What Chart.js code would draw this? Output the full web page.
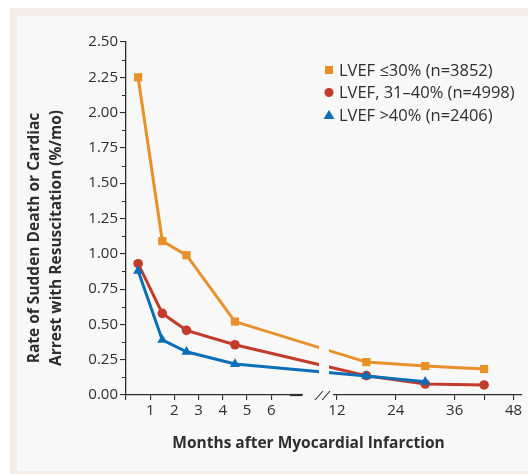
<!DOCTYPE html>
<html>
<head>
<meta charset="utf-8">
<script src="https://cdn.jsdelivr.net/npm/chart.js@4"></script>
<style>
    body { margin: 0; background: #fff; }
    #frame { position: absolute; left: 10px; top: 8px; width: 518px; height: 466px; background: #f2ede6; }
    #panel { position: absolute; left: 17px; top: 16px; width: 511px; height: 455px; background: #f8f8f8; }
    #wrap { position: absolute; left: 0; top: 0; width: 528px; height: 474px; }
</style>
</head>
<body>
<div id="frame"></div>
<div id="panel"></div>
<div id="wrap"><canvas id="rateChart"></canvas></div>
<script>
// DATA
const months = [0.5, 1.5, 2.5, 4.5, 18, 30, 42];
const lvefLow = [2.25, 1.09, 0.99, 0.52, 0.233, 0.205, 0.184];
const lvefMid = [0.93, 0.578, 0.458, 0.356, 0.137, 0.078, 0.071];
const lvefHigh = [0.88, 0.39, 0.306, 0.219, 0.134, 0.094, null];
const seriesLabels = ["LVEF \u226430% (n=3852)", "LVEF, 31\u201340% (n=4998)", "LVEF >40% (n=2406)"];
const xTickMonths = [0, 1, 2, 3, 4, 5, 6, 12, 24, 36, 42, 48];
const xTickLabels = ["", "1", "2", "3", "4", "5", "6", "12", "24", "36", "", "48"];
const yTicks = [0, 0.25, 0.5, 0.75, 1, 1.25, 1.5, 1.75, 2, 2.25, 2.5];

const ORANGE = "#e8902a";
const RED = "#c23b2b";
const BLUE = "#0b6fb8";
const INK = "#2e2e2e";
const PANEL = "#f8f8f8";

// broken axis: 0-6 months wide, 12-48 months compressed
function toAxis(m) {
    if (m <= 6) return m;
    return 8.713 + (m - 12) * 0.2027;
}

function points(values) {
    return months.map((m, i) => ({ x: toAxis(m), y: values[i] })).filter(p => p.y !== null);
}

const tickFont = { family: "Open Sans", size: 15 };

// break gap, minor ticks, titles and legend
const extras = {
    id: "extras",
    afterDatasetsDraw(chart) {
        const ctx = chart.ctx;
        const area = chart.chartArea;
        ctx.save();
        ctx.fillStyle = PANEL;
        ctx.fillRect(319, area.top, 10, area.bottom - area.top - 2);
        ctx.restore();
    },
    afterDraw(chart) {
        const ctx = chart.ctx;
        const area = chart.chartArea;
        const y = chart.scales.y;
        ctx.save();

        // gap in x axis line + slashes
        ctx.fillStyle = PANEL;
        ctx.fillRect(303, area.bottom - 2, 30, 4);
        ctx.strokeStyle = INK;
        ctx.lineWidth = 2.2;
        ctx.beginPath();
        ctx.moveTo(290, area.bottom);
        ctx.lineTo(302, area.bottom);
        ctx.stroke();
        ctx.lineWidth = 1.1;
        ctx.beginPath();
        ctx.moveTo(315, area.bottom + 5);
        ctx.lineTo(323, area.bottom - 4);
        ctx.moveTo(322, area.bottom + 5);
        ctx.lineTo(330, area.bottom - 4);
        ctx.stroke();

        // minor y ticks
        ctx.lineWidth = 1.1;
        ctx.beginPath();
        for (let i = 0; i < yTicks.length - 1; i++) {
            const py = Math.round(y.getPixelForValue(yTicks[i] + 0.125)) + 0.5;
            ctx.moveTo(area.left - 4, py);
            ctx.lineTo(area.left, py);
        }
        ctx.stroke();

        // axis titles
        ctx.fillStyle = INK;
        ctx.font = "bold 15.5px 'Open Sans'";
        ctx.textAlign = "center";
        ctx.textBaseline = "middle";
        ctx.fillText("Months after Myocardial Infarction", 308.5, 444);

        ctx.save();
        ctx.translate(35, 238);
        ctx.rotate(-Math.PI / 2);
        ctx.fillText("Rate of Sudden Death or Cardiac", 0, 0);
        ctx.fillText("Arrest with Resuscitation (%/mo)", 0, 22);
        ctx.restore();

        // legend
        const rows = [70, 92.5, 115];
        ctx.font = "16.5px 'Open Sans'";
        ctx.textAlign = "left";
        chart.data.datasets.forEach((ds, i) => {
            const cy = rows[i];
            ctx.fillStyle = ds.backgroundColor;
            ctx.beginPath();
            if (ds.pointStyle === "rect") {
                ctx.rect(325, cy - 4, 8, 8);
            } else if (ds.pointStyle === "circle") {
                ctx.arc(329, cy, 4.5, 0, Math.PI * 2);
            } else {
                ctx.moveTo(329, cy - 5);
                ctx.lineTo(334.5, cy + 4);
                ctx.lineTo(323.5, cy + 4);
                ctx.closePath();
            }
            ctx.fill();
            ctx.fillStyle = INK;
            ctx.fillText(ds.label, 339, cy + 1);
        });

        ctx.restore();
    }
};

const ctx = document.getElementById("rateChart").getContext("2d");

new Chart(ctx, {
    type: "line",
    data: {
        datasets: [{
            label: seriesLabels[0],
            data: points(lvefLow),
            borderColor: ORANGE,
            backgroundColor: ORANGE,
            pointStyle: "rect",
            pointRadius: 5.8,
            order: 3
        }, {
            label: seriesLabels[1],
            data: points(lvefMid),
            borderColor: RED,
            backgroundColor: RED,
            pointStyle: "circle",
            pointRadius: 4.8,
            order: 2
        }, {
            label: seriesLabels[2],
            data: points(lvefHigh),
            borderColor: BLUE,
            backgroundColor: BLUE,
            pointStyle: "triangle",
            pointRadius: 5.8,
            order: 1
        }]
    },
    options: {
        responsive: true,
        maintainAspectRatio: false,
        animation: false,
        layout: { padding: { top: 42, right: 4, left: 0, bottom: 0 } },
        elements: {
            line: { borderWidth: 3, tension: 0 },
            point: { borderWidth: 0, hoverRadius: 6 }
        },
        plugins: {
            legend: { display: false },
            tooltip: { enabled: false }
        },
        scales: {
            x: {
                type: "linear",
                min: 0,
                max: 16.36,
                afterBuildTicks: s => { s.ticks = xTickMonths.map(m => ({ value: toAxis(m) })); },
                afterFit: s => { s.height = 79; },
                ticks: {
                    autoSkip: false,
                    maxRotation: 0,
                    padding: 2,
                    font: tickFont,
                    color: INK,
                    callback: (v, i) => xTickLabels[i]
                },
                grid: { drawOnChartArea: false, tickLength: 5, color: INK, lineWidth: 1.1 },
                border: { color: INK, width: 1.3 }
            },
            y: {
                min: 0,
                max: 2.5,
                afterBuildTicks: s => { s.ticks = yTicks.map(v => ({ value: v })); },
                afterFit: s => { s.width = 126; },
                ticks: {
                    padding: 2,
                    font: tickFont,
                    color: INK,
                    callback: v => v.toFixed(2)
                },
                grid: { drawOnChartArea: false, tickLength: 6, color: INK, lineWidth: 1.1 },
                border: { color: INK, width: 1.3 }
            }
        }
    },
    plugins: [extras]
});
</script>
</body>
</html>
